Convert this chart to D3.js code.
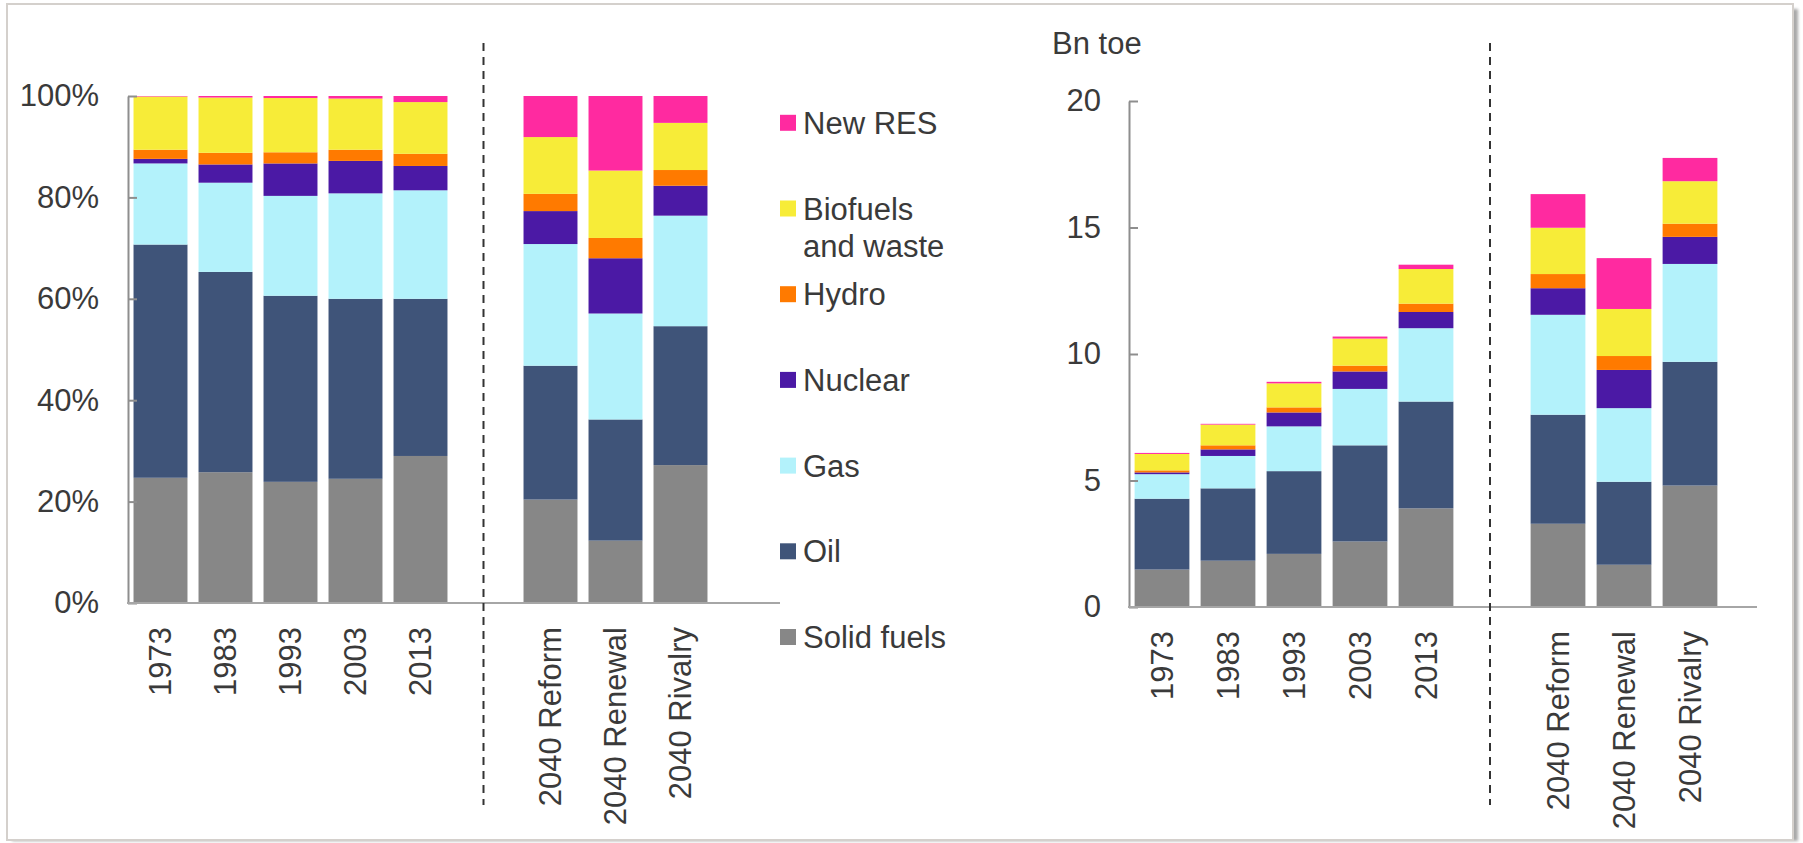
<!DOCTYPE html>
<html>
<head>
<meta charset="utf-8">
<script src="https://cdn.jsdelivr.net/npm/d3@7"></script>
<style>
    body { margin: 0; background: #ffffff; }
    text { font-family: "Liberation Sans", Arial, sans-serif; fill: #3a3a3a; }
</style>
</head>
<body>
<div id="chart"></div>
<script>
// categories (bars), gaps are empty slots in the band scale
var categories = ["1973", "1983", "1993", "2003", "2013", "2040 Reform", "2040 Renewal", "2040 Rivalry"];
var slots = ["1973", "1983", "1993", "2003", "2013", "gapA", "2040 Reform", "2040 Renewal", "2040 Rivalry", "gapB"];

// series, bottom to top
var seriesNames = ["Solid fuels", "Oil", "Gas", "Nuclear", "Hydro", "Biofuels and waste", "New RES"];
var seriesColors = ["#878787", "#3f5479", "#b3f2fb", "#4b19a5", "#ff7a00", "#f7ec38", "#ff2aa0"];

// left chart: share of primary energy demand (%)
var shareSolid    = [24.7, 25.8, 23.9, 24.5, 29.0, 20.4, 12.3, 27.2];
var shareOil      = [46.0, 39.5, 36.7, 35.5, 31.0, 26.4, 23.9, 27.4];
var shareGas      = [16.0, 17.6, 19.7, 20.8, 21.4, 24.0, 20.9, 21.8];
var shareNuclear  = [0.9, 3.6, 6.4, 6.4, 4.8, 6.5, 10.9, 5.9];
var shareHydro    = [1.8, 2.3, 2.2, 2.2, 2.4, 3.4, 4.0, 3.1];
var shareBiofuels = [10.5, 10.9, 10.7, 10.1, 10.2, 11.2, 13.3, 9.3];
var shareNewRes   = [0.1, 0.3, 0.4, 0.5, 1.2, 8.1, 14.7, 5.3];

// right chart: primary energy demand (Bn toe)
var volSolid    = [1.48, 1.83, 2.10, 2.59, 3.90, 3.29, 1.67, 4.80];
var volOil      = [2.80, 2.86, 3.27, 3.80, 4.22, 4.31, 3.28, 4.89];
var volGas      = [0.97, 1.28, 1.77, 2.23, 2.90, 3.95, 2.91, 3.87];
var volNuclear  = [0.07, 0.26, 0.55, 0.69, 0.64, 1.05, 1.51, 1.07];
var volHydro    = [0.08, 0.16, 0.20, 0.23, 0.33, 0.56, 0.55, 0.52];
var volBiofuels = [0.65, 0.82, 0.95, 1.07, 1.37, 1.83, 1.86, 1.68];
var volNewRes   = [0.04, 0.03, 0.06, 0.08, 0.17, 1.33, 2.01, 0.92];

var leftTicks = [0, 20, 40, 60, 80, 100];
var rightTicks = [0, 5, 10, 15, 20];

var width = 1803, height = 843;
var svg;

function buildRows(arrays) {
    return categories.map(function (c, i) {
        var row = {cat: c};
        seriesNames.forEach(function (s, j) { row[s] = arrays[j][i]; });
        return row;
    });
}

function drawPanel(opt) {
    var x = d3.scaleBand()
        .domain(slots)
        .range([opt.x0, opt.x1])
        .paddingInner(0.17)
        .paddingOuter(0.085);

    var y = d3.scaleLinear()
        .domain(opt.domain)
        .range([opt.yBottom, opt.yTop]);

    var stack = d3.stack().keys(seriesNames)(opt.rows);

    var g = svg.append("g");

    // bars
    g.selectAll(".layer")
        .data(stack)
        .enter().append("g")
        .attr("class", "layer")
        .attr("fill", function (d, i) { return seriesColors[i]; })
        .selectAll("rect")
        .data(function (d) { return d; })
        .enter().append("rect")
        .attr("x", function (d) { return x(d.data.cat); })
        .attr("width", x.bandwidth())
        .attr("y", function (d) { return y(d[1]); })
        .attr("height", function (d) { return Math.max(0, y(d[0]) - y(d[1])); });

    // y axis
    var yAxis = g.append("g")
        .attr("transform", "translate(" + opt.x0 + ",0)")
        .call(d3.axisLeft(y)
            .tickValues(opt.ticks)
            .tickSize(-9)
            .tickSizeOuter(0)
            .tickPadding(opt.tickPad)
            .tickFormat(opt.format));
    yAxis.select(".domain").attr("stroke", "#8e8e8e").attr("stroke-width", 2);
    yAxis.selectAll(".tick line").attr("stroke", "#8e8e8e").attr("stroke-width", 2);
    yAxis.selectAll(".tick text")
        .style("font-size", "31px")
        .style("font-family", "'Liberation Sans', Arial, sans-serif")
        .attr("fill", "#3a3a3a");

    // x baseline
    g.append("line")
        .attr("x1", opt.x0 - 1).attr("x2", opt.axisEnd)
        .attr("y1", opt.yBottom).attr("y2", opt.yBottom)
        .attr("stroke", "#a6a6a6").attr("stroke-width", 2);

    // separator between history and scenarios
    var sx = x("gapA") + x.bandwidth() / 2 - 2;
    g.append("line")
        .attr("x1", sx).attr("x2", sx)
        .attr("y1", 43).attr("y2", 805)
        .attr("stroke", "#333")
        .attr("stroke-width", 2)
        .attr("stroke-dasharray", "8,6");

    // category labels, rotated
    g.selectAll(".cat")
        .data(categories)
        .enter().append("text")
        .attr("class", "cat")
        .attr("transform", function (d) {
            return "translate(" + (x(d) + x.bandwidth() / 2) + "," + (opt.yBottom + 24) + ") rotate(-90)";
        })
        .attr("text-anchor", "end")
        .attr("dy", "0.35em")
        .style("font-size", "31px")
        .text(function (d) { return d; });

    return g;
}

function init() {
    svg = d3.select("#chart").append("svg")
        .attr("width", width)
        .attr("height", height);

    // frame with soft shadow
    var defs = svg.append("defs");
    defs.append("filter").attr("id", "blur")
        .append("feGaussianBlur").attr("stdDeviation", 1.6);
    svg.append("rect")
        .attr("x", 12).attr("y", 9).attr("width", 1786).attr("height", 832)
        .attr("fill", "#a9a9a9").attr("filter", "url(#blur)");
    svg.append("rect")
        .attr("x", 7).attr("y", 4).attr("width", 1786).attr("height", 836)
        .attr("fill", "#ffffff").attr("stroke", "#d4d0cc").attr("stroke-width", 2);

    drawPanel({
        rows: buildRows([shareSolid, shareOil, shareGas, shareNuclear, shareHydro, shareBiofuels, shareNewRes]),
        x0: 128, x1: 778, axisEnd: 780,
        yBottom: 603, yTop: 96,
        domain: [0, 100], ticks: leftTicks, tickPad: 29,
        format: function (d) { return d + "%"; }
    });

    drawPanel({
        rows: buildRows([volSolid, volOil, volGas, volNuclear, volHydro, volBiofuels, volNewRes]),
        x0: 1129, x1: 1789, axisEnd: 1757,
        yBottom: 607, yTop: 101,
        domain: [0, 20], ticks: rightTicks, tickPad: 28,
        format: d3.format("d")
    });

    // unit label
    svg.append("text")
        .attr("x", 1052).attr("y", 54)
        .style("font-size", "31px")
        .text("Bn toe");

    // legend, top entry is the last series
    var legend = svg.append("g").attr("transform", "translate(780,0)");
    seriesNames.forEach(function (s, i) {
        var cy = 637 - i * 85.7;
        legend.append("rect")
            .attr("x", 0).attr("y", cy - 8)
            .attr("width", 16).attr("height", 16)
            .attr("fill", seriesColors[i]);
        var t = legend.append("text")
            .attr("x", 23).attr("y", cy + 11)
            .style("font-size", "31px");
        if (s === "Biofuels and waste") {
            t.append("tspan").attr("x", 23).text("Biofuels");
            t.append("tspan").attr("x", 23).attr("dy", 37).text("and waste");
        } else {
            t.text(s);
        }
    });
}

init();
</script>
</body>
</html>
